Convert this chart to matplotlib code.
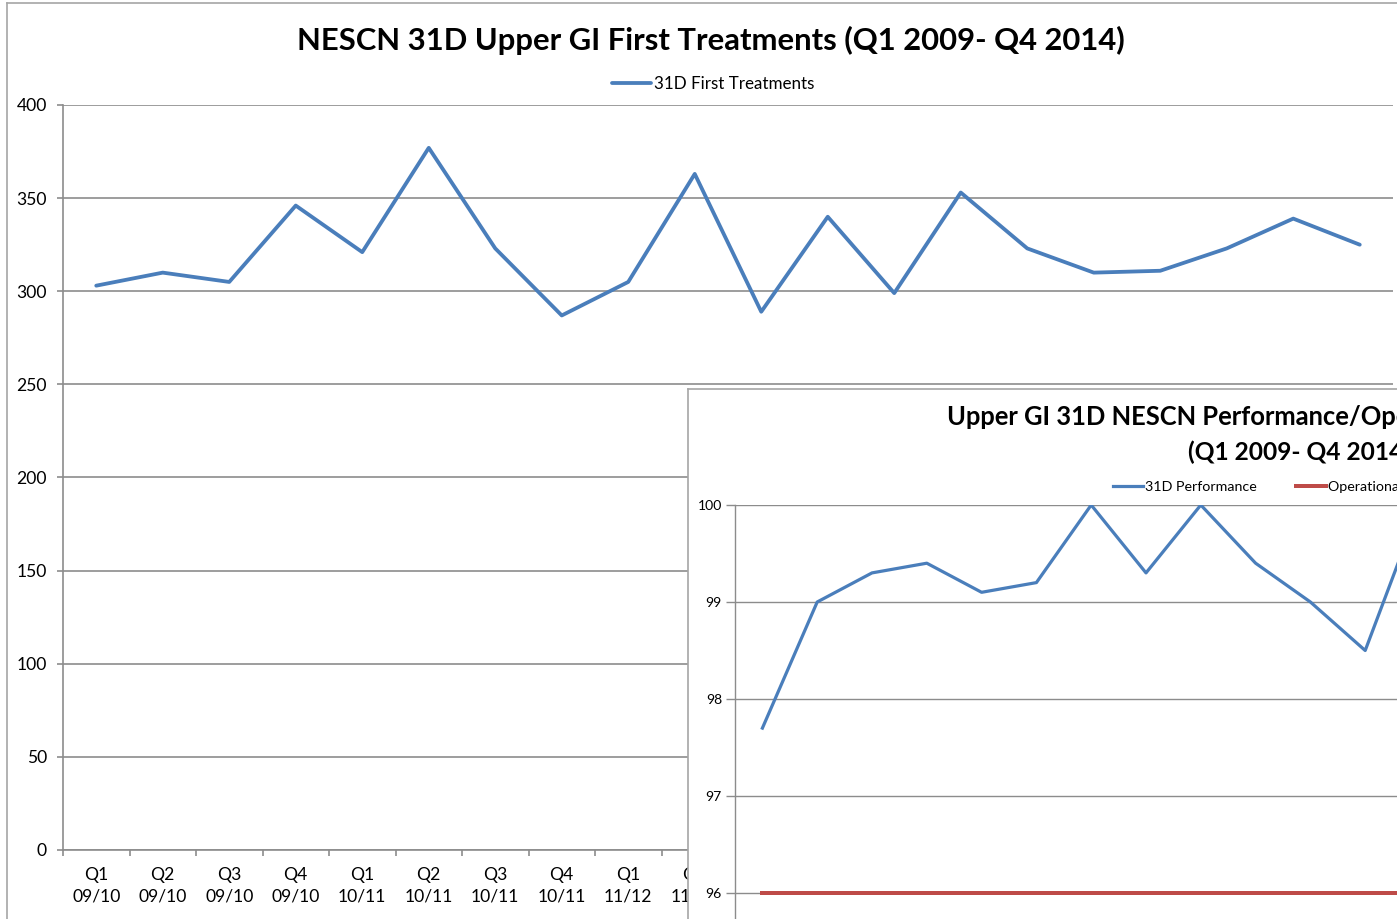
import matplotlib
matplotlib.use('Agg')
import matplotlib.pyplot as plt
import numpy as np

W, H = 1397, 919

quarters = ['Q1\n09/10', 'Q2\n09/10', 'Q3\n09/10', 'Q4\n09/10',
            'Q1\n10/11', 'Q2\n10/11', 'Q3\n10/11', 'Q4\n10/11',
            'Q1\n11/12', 'Q2\n11/12', 'Q3\n11/12', 'Q4\n11/12',
            'Q1\n12/13', 'Q2\n12/13', 'Q3\n12/13', 'Q4\n12/13',
            'Q1\n13/14', 'Q2\n13/14', 'Q3\n13/14', 'Q4\n13/14']
treatments = [303, 310, 305, 346, 321, 377, 323, 287, 305, 363,
              289, 340, 299, 353, 323, 310, 311, 323, 339, 325]
performance = [97.7, 99.0, 99.3, 99.4, 99.1, 99.2, 100.0, 99.3, 100.0,
               99.4, 99.0, 98.5, 100.0]
standard = [96] * 20

main_ticks = [0, 50, 100, 150, 200, 250, 300, 350, 400]
inset_ticks = [95, 96, 97, 98, 99, 100]

BLUE = '#4A7EBB'
RED = '#BE4B48'
GRID = '#8c8c8c'
FRAME = '#a6a6a6'

plt.rcParams['font.family'] = ['Lato', 'DejaVu Sans']


def pt(px):
    return px * 72 / 100


def rect(x0, y0, x1, y1):
    return [x0 / W, 1 - y1 / H, (x1 - x0) / W, (y1 - y0) / H]


fig = plt.figure(figsize=(W / 100, H / 100), dpi=100)

# outer frame of the main chart
bg = fig.add_axes(rect(7, 3, 1414, 1000), zorder=0)
bg.set_facecolor('white')
bg.set_xticks([]); bg.set_yticks([])
for s in bg.spines.values():
    s.set_color(FRAME); s.set_linewidth(1.2)

ax = fig.add_axes(rect(63, 105, 1393, 850), zorder=1)
ax.set_facecolor('none')
x = np.arange(len(treatments))
ax.plot(x, treatments, color=BLUE, lw=pt(3.8), solid_joinstyle='round',
        solid_capstyle='round', label='31D First Treatments', zorder=3)
ax.set_xlim(-0.5, len(quarters) - 0.5)
ax.set_ylim(0, 400)
ax.set_yticks(main_ticks)
ax.set_yticklabels([str(t) for t in main_ticks])
ax.yaxis.grid(True, color=GRID, lw=1.2)
ax.set_axisbelow(True)
ax.set_xticks(np.arange(-0.5, len(quarters), 1))
ax.set_xticklabels([])
ax.set_xticks(x, minor=True)
ax.set_xticklabels(quarters, minor=True)
ax.tick_params(axis='x', which='major', length=pt(6), color=GRID, width=1.2)
ax.tick_params(axis='x', which='minor', length=0, pad=pt(17),
               labelsize=pt(17.5), labelcolor='black')
ax.tick_params(axis='y', length=pt(6), color=GRID, width=1.2, pad=pt(10),
               labelsize=pt(17.5))
for t in ax.get_xticklabels(minor=True):
    t.set_linespacing(1.45)
for k in ['top', 'right']:
    ax.spines[k].set_visible(False)
for k in ['left', 'bottom']:
    ax.spines[k].set_color(GRID); ax.spines[k].set_linewidth(1.2)

fig.text(711 / W, 1 - 40 / H,
         'NESCN 31D Upper GI First Treatments (Q1 2009- Q4 2014)',
         ha='center', va='center', fontsize=pt(31), fontweight='bold')
ax.legend(loc='center', bbox_to_anchor=(713 / W, 1 - 84 / H),
          bbox_transform=fig.transFigure, frameon=False, fontsize=pt(17),
          handlelength=2.3, handletextpad=0.15, borderpad=0, borderaxespad=0)

# inset chart frame
ibg = fig.add_axes(rect(688, 389, 1700, 1100), zorder=2)
ibg.set_facecolor('white')
ibg.set_xticks([]); ibg.set_yticks([])
for s in ibg.spines.values():
    s.set_color(FRAME); s.set_linewidth(1.2)

n_inset = 20
sp = 54.8
iax = fig.add_axes(rect(735, 505, 735 + n_inset * sp, 990), zorder=3)
iax.set_facecolor('none')
iax.plot(np.arange(len(performance)), performance, color=BLUE, lw=pt(3.2),
         solid_joinstyle='round', label='31D Performance', zorder=3)
iax.plot(np.arange(len(standard)), standard, color=RED, lw=pt(4.0),
         label='Operational Standard', zorder=3)
iax.set_xlim(-0.5, n_inset - 0.5)
iax.set_ylim(95, 100)
iax.set_yticks(inset_ticks)
iax.set_yticklabels([str(t) for t in inset_ticks])
iax.yaxis.grid(True, color=GRID, lw=1.0)
iax.set_axisbelow(True)
iax.set_xticks([])
iax.tick_params(axis='y', length=pt(9), color=GRID, width=1.0, pad=pt(4),
                labelsize=pt(14))
for k in ['top', 'right']:
    iax.spines[k].set_visible(False)
for k in ['left', 'bottom']:
    iax.spines[k].set_color(GRID); iax.spines[k].set_linewidth(1.0)

fig.text(947 / W, 1 - 417 / H,
         'Upper GI 31D NESCN Performance/Operational Standard',
         ha='left', va='center', fontsize=pt(25.5), fontweight='bold', zorder=6)
fig.text(1188 / W, 1 - 452 / H, '(Q1 2009- Q4 2014)',
         ha='left', va='center', fontsize=pt(24.5), fontweight='bold', zorder=6)
iax.legend(loc='center left', bbox_to_anchor=(1113 / W, 1 - 487 / H),
           bbox_transform=fig.transFigure, frameon=False, fontsize=pt(14.3),
           ncol=2, handlelength=2.1, handletextpad=0.15, columnspacing=2.7,
           borderpad=0, borderaxespad=0)

fig.savefig('out.png', dpi=100)
